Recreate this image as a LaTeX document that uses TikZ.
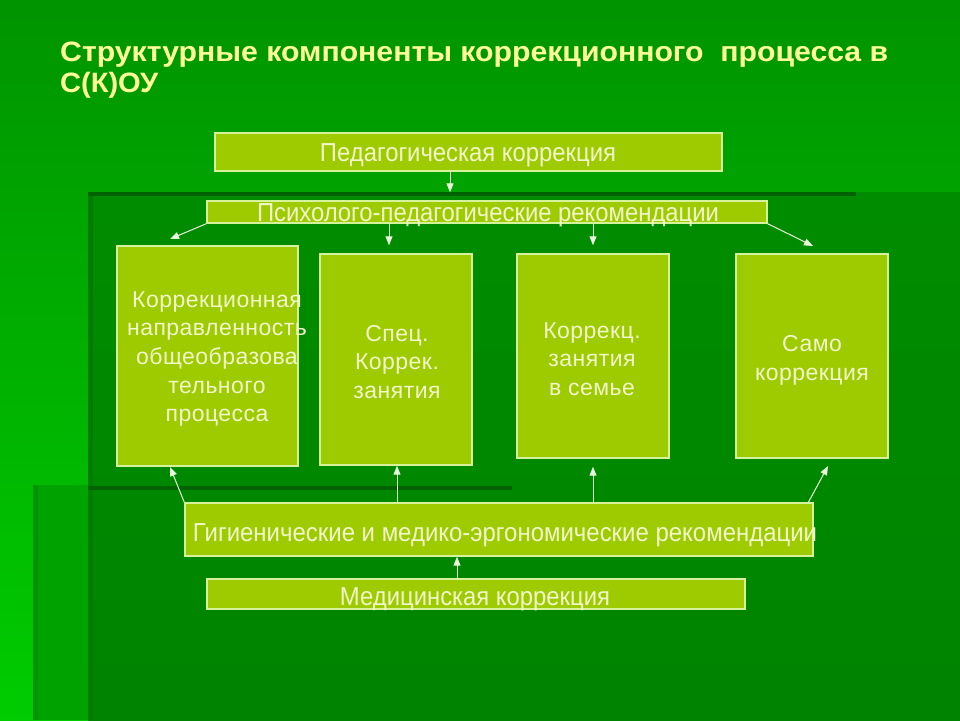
\documentclass[tikz,border=0pt]{standalone}
\usepackage{fontspec}
\setmainfont{Liberation Sans}
\newfontfamily\spacedfont[LetterSpace=2]{Liberation Sans}
\usetikzlibrary{arrows.meta}
\definecolor{basetop}{HTML}{009400}
\definecolor{basebot}{HTML}{00CC00}
\definecolor{panelA}{HTML}{00A200}
\definecolor{panelB}{HTML}{008C00}
\definecolor{shadowdark}{HTML}{006200}
\definecolor{shadowsoft}{HTML}{007C00}
\definecolor{shadowleft}{HTML}{009200}
\definecolor{boxfill}{HTML}{9DCB00}
\definecolor{boxline}{HTML}{D6F29A}
\definecolor{titlecol}{HTML}{FFFF99}
\definecolor{textcol}{HTML}{F2F7CC}
\definecolor{arrowcol}{HTML}{E8F7DC}
\newcommand{\fitw}[2]{\resizebox{#1}{\height}{#2}}
\tikzset{
  box/.style={draw=boxline, line width=1.4pt, fill=boxfill, inner sep=0pt},
  boxtext/.style={text=textcol, inner sep=0pt, font=\fontsize{26}{26}\selectfont},
  multitext/.style={text=textcol, inner sep=0pt, align=center, font=\spacedfont\fontsize{23}{28.7}\selectfont},
  titletext/.style={text=titlecol, inner sep=0pt, anchor=base west, font=\bfseries\fontsize{28}{28}\selectfont},
  arr/.style={draw=arrowcol, line width=1pt, -{Triangle[length=9pt,width=7pt]}},
}
\begin{document}
\begin{tikzpicture}[x=1pt,y=-1pt]
\useasboundingbox (0,0) rectangle (960,720);
% background
\shade[top color=basetop, bottom color=basebot] (0,0) rectangle (960,720);
\fill[panelA] (33,485) rectangle (960,720);
\fill[shadowleft] (33,485) rectangle (38,720);
\shade[top color=panelB, bottom color=panelB!94!black] (88,192) rectangle (960,720);
\fill[shadowsoft] (88,192) rectangle (93,720);
\fill[shadowdark] (88,192) rectangle (856,196);
\fill[shadowdark] (88,486) rectangle (512,490);

% title
\node[titletext] (t1) at (60,61) {\fitw{828pt}{Структурные компоненты коррекционного\ \ процесса в}};
\node[titletext] (t2) at (60,92) {\fitw{98pt}{С(К)ОУ}};

% boxes
\node[box, minimum width=507pt, minimum height=38pt] (ped) at (468.5,152) {};
\node[box, minimum width=560pt, minimum height=22pt] (psy) at (487,212) {};
\node[box, minimum width=181pt, minimum height=220pt] (ba) at (207.5,356) {};
\node[box, minimum width=152pt, minimum height=211pt] (bb) at (396,359.5) {};
\node[box, minimum width=152pt, minimum height=204pt] (bc) at (593,356) {};
\node[box, minimum width=152pt, minimum height=204pt] (bd) at (812,356) {};
\node[box, minimum width=628pt, minimum height=53pt] (gig) at (499,529.5) {};
\node[box, minimum width=538pt, minimum height=30pt] (med) at (476,594) {};

% texts
\node[boxtext, anchor=base] (tped) at (468,161) {\fitw{296pt}{Педагогическая коррекция}};
\node[boxtext, anchor=base] (tpsy) at (488,221) {\fitw{462pt}{Психолого-педагогические рекомендации}};
\node[boxtext, anchor=base] (tgig) at (505,541) {\fitw{624pt}{Гигиенические и медико-эргономические рекомендации}};
\node[boxtext, anchor=base] (tmed) at (475,605) {\fitw{270pt}{Медицинская коррекция}};
\node[multitext] (ta) at (217,359) {Коррекционная\\направленность\\общеобразова\\тельного\\процесса};
\node[multitext] (tb) at (397,362) {Спец.\\Коррек.\\занятия};
\node[multitext] (tc) at (592,359) {Коррекц.\\ занятия\\ в семье};
\node[multitext] (td) at (812,360) {Само\\коррекция};

% arrow helper coordinates
\coordinate (xa) at (450,0);
\coordinate (xb) at (389,0);
\coordinate (xc) at (593,0);
\coordinate (xgb) at (397,0);
\coordinate (xmed) at (457,0);
\coordinate (endA) at (170,239);
\coordinate (endD) at (813,246);
\coordinate (endGA) at (170,467);
\coordinate (endGD) at (828,466);
\coordinate (startGD) at (808,503);

% connectors
\draw[arr] (ped.south -| xa) -- ([yshift=8pt]psy.north -| xa);
\draw[arr] (psy.south west) -- (endA);
\draw[arr] (psy.south -| xb) -- ([yshift=8pt]bb.north -| xb);
\draw[arr] (psy.south -| xc) -- ([yshift=8pt]bc.north -| xc);
\draw[arr] (psy.south east) -- (endD);
\draw[arr] (gig.north west) -- (endGA);
\draw[arr] (gig.north -| xgb) -- (bb.south -| xgb);
\draw[arr] (gig.north -| xc) -- ([yshift=-8pt]bc.south -| xc);
\draw[arr] (startGD) -- (endGD);
\draw[arr] (med.north -| xmed) -- (gig.south -| xmed);
\end{tikzpicture}
\end{document}
